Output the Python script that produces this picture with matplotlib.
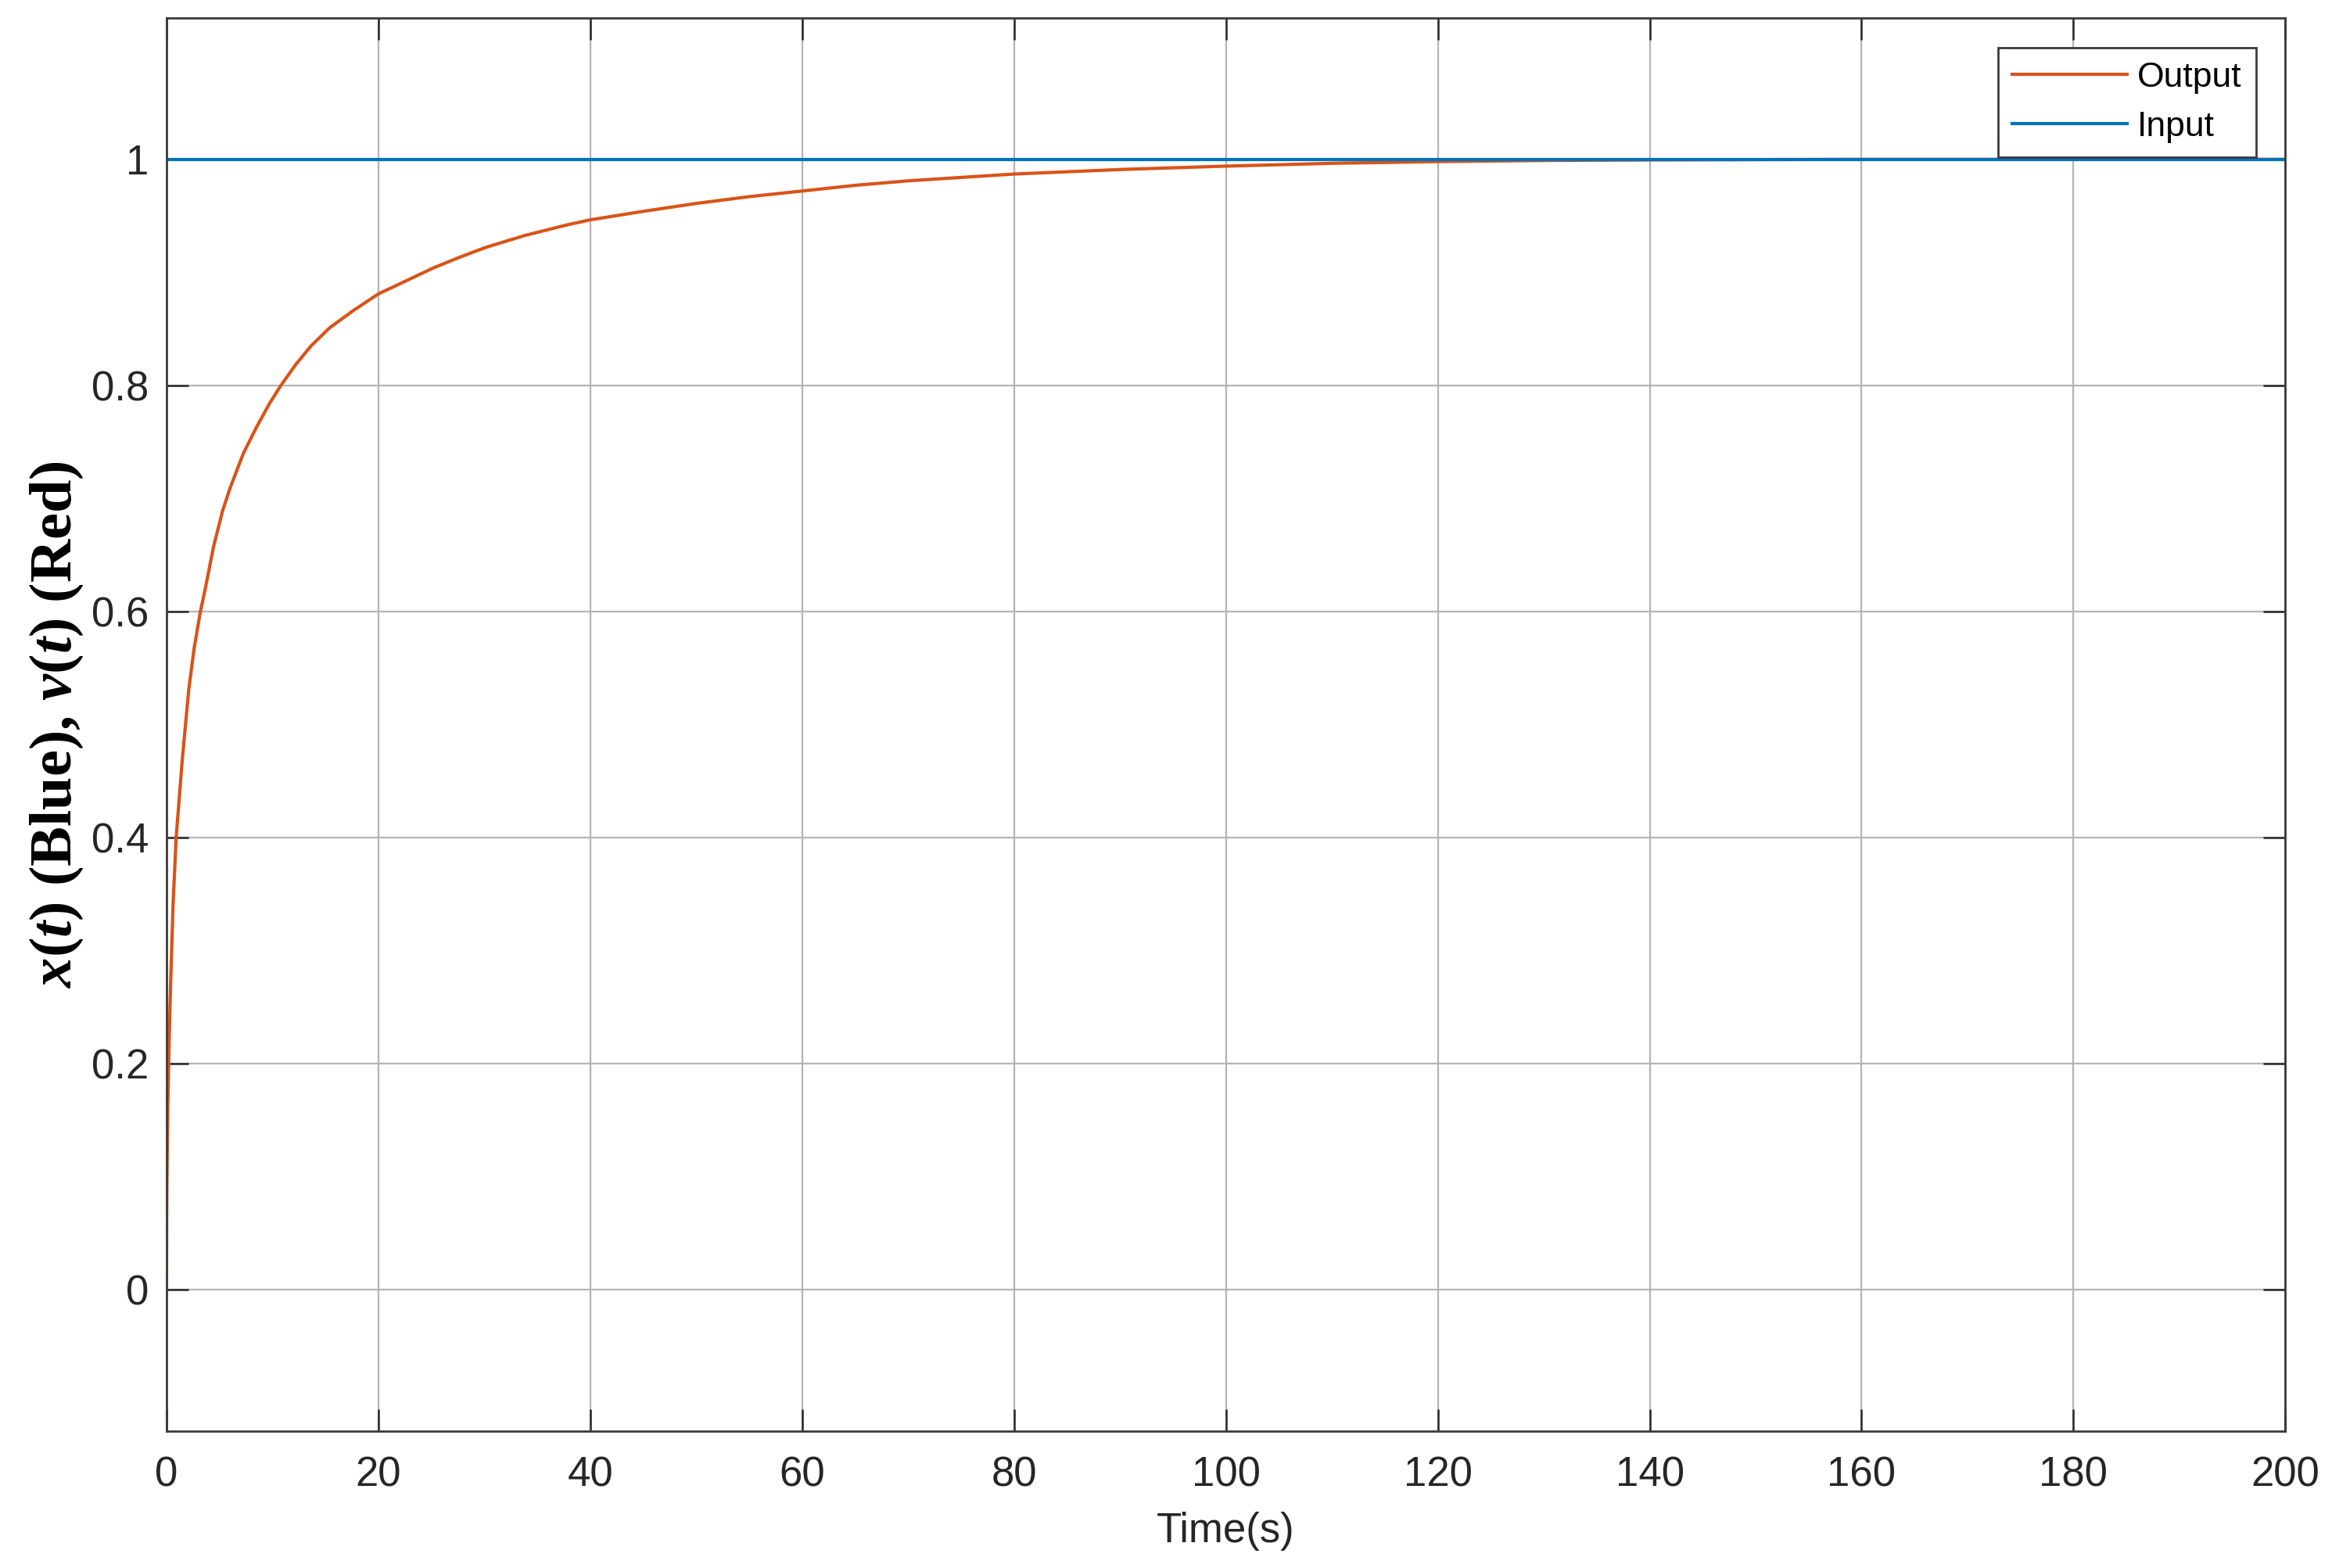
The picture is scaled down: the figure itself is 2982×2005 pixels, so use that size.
import matplotlib
matplotlib.use("Agg")
import matplotlib.pyplot as plt

# values
t_out = [0, 0.02, 0.05, 0.12, 0.25, 0.37, 0.62, 0.91, 1.48, 2.09, 2.6, 3.2, 3.7, 4.43,
         5.29, 6.03, 7.26, 8.49, 9.72, 10.8, 12.2, 13.65, 15.4, 17.6, 20, 22.5, 25.2,
         27.7, 30.1, 33.8, 37.8, 40, 45, 50, 55, 60, 65, 70, 75, 80, 90, 100, 110, 120,
         130, 140, 160, 180, 200]
y_out = [0, 0.07, 0.105, 0.16, 0.22, 0.265, 0.341, 0.4, 0.468, 0.53, 0.567, 0.6, 0.622,
         0.657, 0.689, 0.71, 0.74, 0.763, 0.784, 0.8, 0.8185, 0.835, 0.851, 0.866, 0.881,
         0.892, 0.904, 0.9135, 0.922, 0.9326, 0.942, 0.9465, 0.954, 0.961, 0.967, 0.972,
         0.977, 0.981, 0.984, 0.987, 0.991, 0.994, 0.9965, 0.998, 0.999, 0.9995, 1.0,
         1.0, 1.0]
t_in = [0, 200]
y_in = [1, 1]

x_ticks = [0, 20, 40, 60, 80, 100, 120, 140, 160, 180, 200]
y_ticks = [0, 0.2, 0.4, 0.6, 0.8, 1]
y_ticklabels = ['0', '0.2', '0.4', '0.6', '0.8', '1']

plt.rcParams['font.family'] = ['Liberation Sans', 'DejaVu Sans']
plt.rcParams['mathtext.fontset'] = 'custom'
plt.rcParams['mathtext.rm'] = 'Liberation Serif:bold'
plt.rcParams['mathtext.it'] = 'Liberation Serif:italic:bold'
plt.rcParams['mathtext.bf'] = 'Liberation Serif:bold'

fig = plt.figure(figsize=(14.91, 10.025), dpi=200)
ax = fig.add_axes([0.0714, 0.0873, 0.9086, 0.9012])

ax.plot(t_out, y_out, color='#D95319', lw=1.5, label='Output')
ax.plot(t_in, y_in, color='#0072BD', lw=1.5, label='Input')

ax.set_xlim(0, 200)
ax.set_ylim(-0.125, 1.125)
ax.set_xticks(x_ticks)
ax.set_yticks(y_ticks)
ax.set_yticklabels(y_ticklabels)
ax.grid(True, color='#b4b4b4', lw=0.8)
ax.set_axisbelow(True)
ax.tick_params(direction='in', length=10, width=0.9, top=True, right=True,
               labelsize=19, colors='#262626')
ax.tick_params(axis='x', pad=11.5)
ax.tick_params(axis='y', pad=8)
for sp in ax.spines.values():
    sp.set_color('#3a3a3a')
    sp.set_linewidth(1.0)

ax.set_xlabel('Time(s)', fontsize=19, color='#262626', labelpad=7.5)
ax.set_ylabel(r'$x(t)$ (Blue), $v(t)$ (Red)', fontsize=27.5, fontfamily='Liberation Serif',
              fontweight='bold', labelpad=3)

leg = ax.legend(loc='upper right', fontsize=16, handlelength=3.3, handletextpad=0.3,
                fancybox=False, framealpha=1, edgecolor='#3a3a3a', borderaxespad=0.85)
leg.get_frame().set_linewidth(1.0)

fig.savefig('out.png', dpi=200)
